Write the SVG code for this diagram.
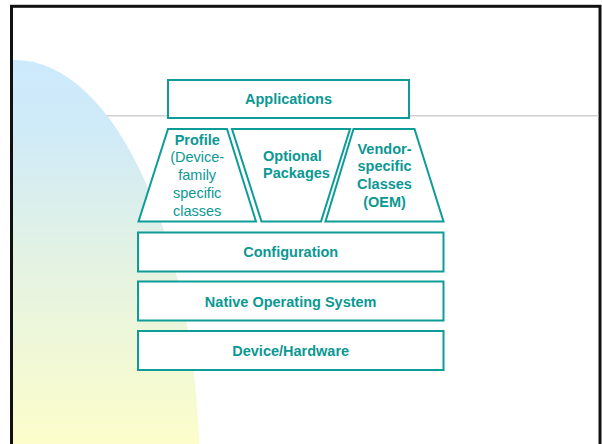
<svg xmlns="http://www.w3.org/2000/svg" width="602" height="444" viewBox="0 0 602 444">
  <defs>
    <linearGradient id="bg" gradientUnits="userSpaceOnUse" x1="0" y1="60" x2="0" y2="444">
      <stop offset="0" stop-color="#cdeafc"/>
      <stop offset="0.18" stop-color="#cfeaf8"/>
      <stop offset="0.5" stop-color="#e2f2e4"/>
      <stop offset="1" stop-color="#fcfdca"/>
    </linearGradient>
    <style>
      .box { fill: #ffffff; stroke: #0e9c98; stroke-width: 2; }
      .t { font-family: "Liberation Sans", Arial, sans-serif; font-size: 14.5px; fill: #0b9893; text-anchor: middle; }
      .b { font-weight: bold; }
      .s { text-anchor: start; }
    </style>
  </defs>

  <rect x="0" y="0" width="602" height="444" fill="#ffffff"/>
  <rect x="11.5" y="6.3" width="588.5" height="460" fill="#ffffff" stroke="#111111" stroke-width="3"/>
  <line x1="13" y1="115.7" x2="598.5" y2="115.7" stroke="#d0d0d0" stroke-width="1.5"/>
  <path d="M13 60 L15 60 A185 420 0 0 1 200 480 L13 480 Z" fill="url(#bg)"/>

  <g id="applications">
    <rect class="box" x="168" y="80" width="241" height="38"/>
    <text class="t b" x="288.5" y="103.5">Applications</text>
  </g>

  <g id="profile">
    <polygon class="box" points="168,129 227,129 256,221.5 138.5,221.5"/>
    <text class="t b" x="197.2" y="144.5">Profile</text>
    <text class="t" x="197.2" y="162.3">(Device-</text>
    <text class="t" x="197.2" y="180.1">family</text>
    <text class="t" x="197.2" y="197.9">specific</text>
    <text class="t" x="197.2" y="215.7">classes</text>
  </g>

  <g id="optional">
    <polygon class="box" points="232,129 350,129 321,221.5 261.5,221.5"/>
    <text class="t b s" x="263" y="161.3">Optional</text>
    <text class="t b s" x="263" y="178">Packages</text>
  </g>

  <g id="vendor">
    <polygon class="box" points="353.5,129 414.5,129 443.5,221.5 325.5,221.5"/>
    <text class="t b" x="384.5" y="153.5">Vendor-</text>
    <text class="t b" x="384.5" y="171.3">specific</text>
    <text class="t b" x="384.5" y="189.1">Classes</text>
    <text class="t b" x="384.5" y="206.9">(OEM)</text>
  </g>

  <g id="configuration">
    <rect class="box" x="138" y="232.5" width="305.5" height="39"/>
    <text class="t b" x="290.7" y="257.3">Configuration</text>
  </g>

  <g id="native-os">
    <rect class="box" x="138" y="281.5" width="305.5" height="39"/>
    <text class="t b" x="290.7" y="307">Native Operating System</text>
  </g>

  <g id="device-hardware">
    <rect class="box" x="138" y="331" width="305.5" height="39"/>
    <text class="t b" x="290.7" y="356">Device/Hardware</text>
  </g>

  <g id="connectors"></g>
</svg>
